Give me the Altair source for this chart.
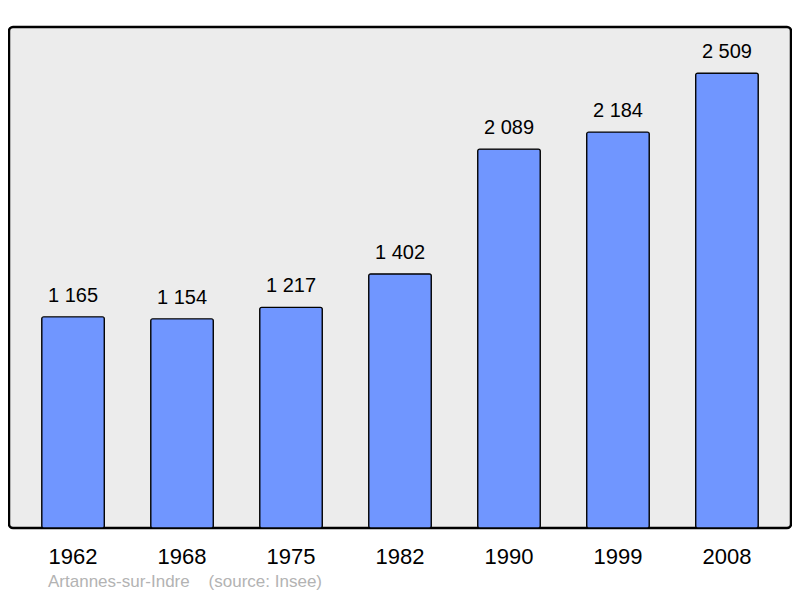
import altair as alt
import pandas as pd

years = ["1962", "1968", "1975", "1982", "1990", "1999", "2008"]
population = [1165, 1154, 1217, 1402, 2089, 2184, 2509]
labels = ["1 165", "1 154", "1 217", "1 402", "2 089", "2 184", "2 509"]
caption = "Artannes-sur-Indre\u00a0\u00a0\u00a0\u00a0(source: Insee)"

df = pd.DataFrame({"year": years, "pop": population, "label": labels})

FONT = "Liberation Sans"

x = alt.X("year:N", sort=years,
          scale=alt.Scale(paddingInner=0.425, paddingOuter=0.3),
          axis=alt.Axis(title=None, labelAngle=0, labelFontSize=22, labelFont=FONT,
                        labelColor="#000000", ticks=False, domain=False, labelPadding=18))
y = alt.Y("pop:Q", scale=alt.Scale(domain=[0, 2763], nice=False, zero=True), axis=None)

base = alt.Chart(df)
bars = base.mark_bar(color="#7096ff", stroke="#000000", strokeWidth=1.2, cornerRadius=2).encode(x=x, y=y)
text = base.mark_text(baseline="alphabetic", dy=-15, fontSize=20, font=FONT, color="#000000").encode(
    x=x, y=y, text="label:N")
cap = alt.Chart(pd.DataFrame({"t": [caption]})).mark_text(
    align="left", baseline="alphabetic", fontSize=17, font=FONT, color="#b3b3b3").encode(
    x=alt.value(39), y=alt.value(560), text="t:N")

chart = alt.layer(bars, text, cap).properties(
    width=782, height=501,
    padding={"left": 1, "top": 19, "right": 1, "bottom": 62},
    autosize=alt.AutoSizeParams(type="none"),
).configure_view(
    fill="#ececec", stroke="#000000", strokeWidth=2.5, cornerRadius=4
)

chart.save("out.html", embed_options={"renderer": "svg", "actions": False})
